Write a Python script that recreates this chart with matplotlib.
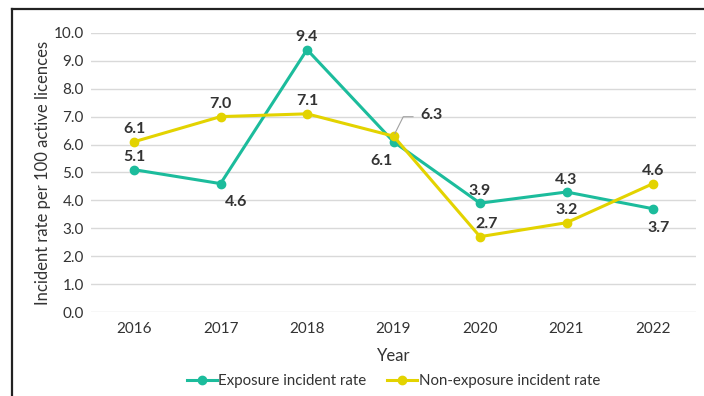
import matplotlib.pyplot as plt
from matplotlib.lines import Line2D
from matplotlib.transforms import ScaledTranslation

plt.rcParams['font.family'] = ['Lato', 'DejaVu Sans']

years = ['2016', '2017', '2018', '2019', '2020', '2021', '2022']
exposure = [5.1, 4.6, 9.4, 6.1, 3.9, 4.3, 3.7]
non_exposure = [6.1, 7.0, 7.1, 6.3, 2.7, 3.2, 4.6]

teal = '#1cbc9c'
yellow = '#e3d300'
txt = '#333333'

fig = plt.figure(figsize=(7.04, 3.96), dpi=100)
ax = fig.add_axes([0.129, 0.212, 0.860, 0.705])

x = list(range(len(years)))
ax.plot(x, exposure, color=teal, lw=2.2, marker='o', ms=6, label='Exposure incident rate', zorder=3)
ax.plot(x, non_exposure, color=yellow, lw=2.2, marker='o', ms=6, label='Non-exposure incident rate', zorder=4)

# offsets (points) for the value labels
exp_off = [(0, 9), (11, -13), (0, 9), (-9, -14), (0, 9), (0, 9), (4, -14)]
non_off = [(0, 9), (0, 9), (0, 9), (27, 15), (5, 9), (0, 9), (0, 9)]

for i, v in enumerate(exposure):
    ax.annotate(f'{v:.1f}', (i, v), xytext=exp_off[i], textcoords='offset points',
                ha='center', va='center', fontsize=11.5, fontweight='bold', color=txt)
for i, v in enumerate(non_exposure):
    ax.annotate(f'{v:.1f}', (i, v), xytext=non_off[i], textcoords='offset points',
                ha='center', va='center', fontsize=11.5, fontweight='bold', color=txt)

# leader line for the 2019 non-exposure label (offsets in points from the marker)
lead_x = [1, 7, 14]
lead_y = [2, 14, 14]
lead_tr = fig.dpi_scale_trans + ScaledTranslation(3, non_exposure[3], ax.transData)
ax.add_line(Line2D([v / 72 for v in lead_x], [v / 72 for v in lead_y],
                   color='#a0a0a0', lw=0.8, zorder=5, transform=lead_tr))

ax.set_xlim(-0.5, len(years) - 0.5)
ax.set_ylim(0, 10)
ax.set_yticks(range(11))
ax.set_yticklabels([f'{i:.1f}' for i in range(11)])
ax.set_xticks(x)
ax.set_xticklabels(years)
ax.tick_params(length=0, labelsize=11, colors=txt, pad=7)
ax.tick_params(axis='y', pad=5)
ax.grid(axis='y', color='#d9d9d9', lw=1)
ax.set_axisbelow(True)
for s in ax.spines.values():
    s.set_visible(False)

ax.set_ylabel('Incident rate per 100 active licences', fontsize=12, color=txt, labelpad=2)
ax.set_xlabel('Year', fontsize=12, color=txt, labelpad=9)

ax.legend(loc='center', bbox_to_anchor=(0.5, -0.247), ncol=2, frameon=False,
          fontsize=10.8, handlelength=2.0, handletextpad=0.1, columnspacing=1.4, labelcolor=txt)

# outer frame (top and left edges)
fig.add_artist(Line2D([12 / 704, 1], [1 - 9 / 396, 1 - 9 / 396], color='#222222', lw=1.6))
fig.add_artist(Line2D([12 / 704, 12 / 704], [0, 1 - 9 / 396], color='#222222', lw=1.6))

fig.savefig('out.png', dpi=100)
